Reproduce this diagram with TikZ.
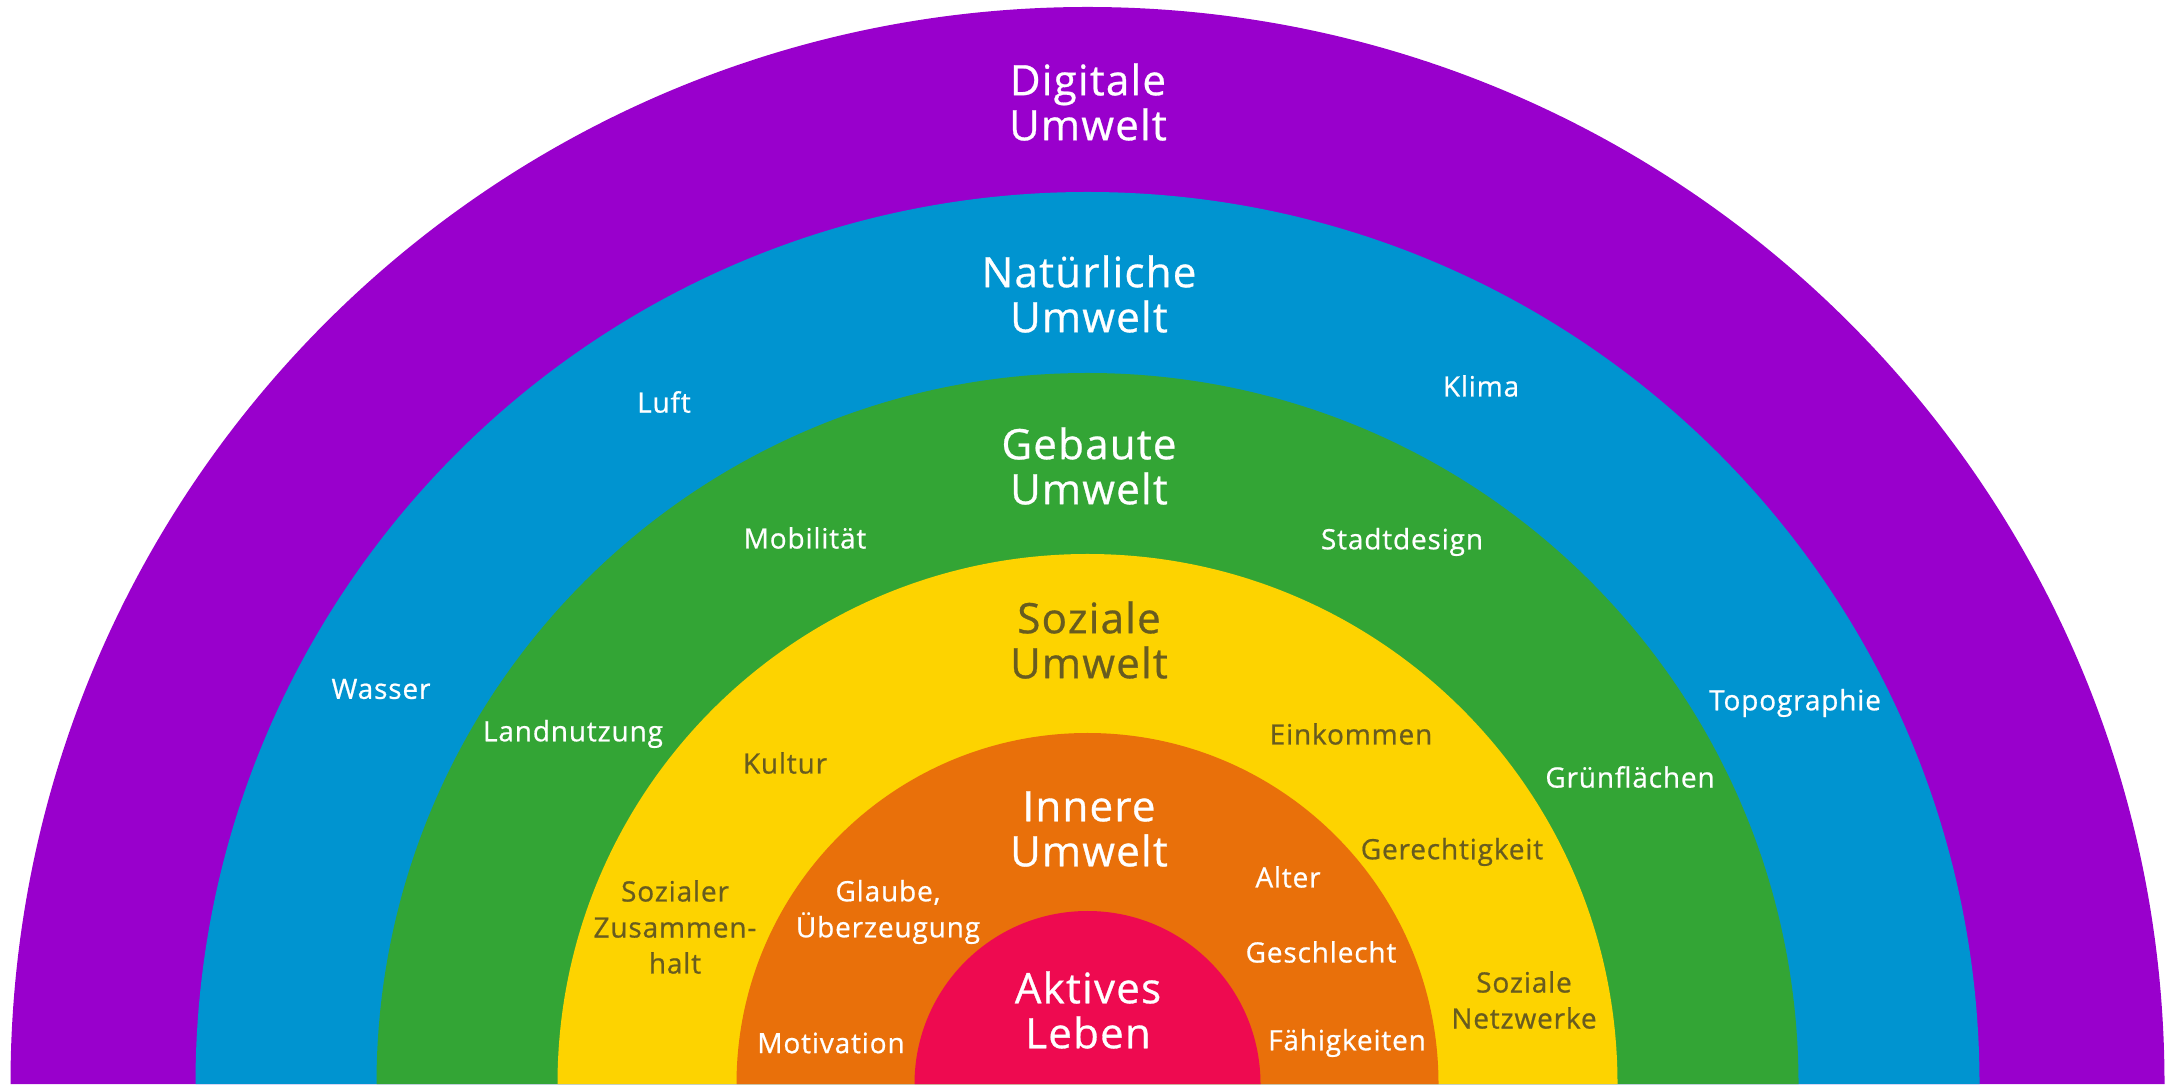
\documentclass[tikz,border=0pt]{standalone}
\usepackage{fontspec}
\setmainfont{Open Sans}[FakeBold=0.7,LetterSpace=3]
\definecolor{cpurple}{RGB}{153,0,204}
\definecolor{cblue}{RGB}{0,148,208}
\definecolor{cgreen}{RGB}{51,165,53}
\definecolor{cyellow}{RGB}{253,211,0}
\definecolor{corange}{RGB}{233,112,10}
\definecolor{cred}{RGB}{238,10,80}
\definecolor{colive}{RGB}{104,92,32}
\tikzset{
  bigtext/.style={font=\fontsize{42}{45}\selectfont, align=center, inner sep=0pt, text=white},
  smalltext/.style={font=\fontsize{28}{36}\selectfont, align=center, inner sep=0pt, text=white},
  darktext/.style={text=colive}
}
\begin{document}
\begin{tikzpicture}[x=1pt,y=1pt]
\useasboundingbox (0,0) rectangle (2175,1084);
\coordinate (c) at (1087.5,0);
\foreach \r/\col in {1077/cpurple,892/cblue,711/cgreen,530/cyellow,351/corange,173/cred}{
  \fill[\col] ([xshift=-\r pt]c) arc[start angle=180,end angle=0,radius=\r] -- cycle;
}
% ring titles
\node[bigtext] (digital) at (1088,982) {Digitale\\Umwelt};
\node[bigtext] (natur) at (1089,790) {Natürliche\\Umwelt};
\node[bigtext] (gebaut) at (1089,618) {Gebaute\\Umwelt};
\node[bigtext,darktext] (sozial) at (1089,444) {Soziale\\Umwelt};
\node[bigtext] (innere) at (1089,255) {Innere\\Umwelt};
\node[bigtext] (aktiv) at (1088,74) {Aktives\\Leben};
% natural
\node[smalltext] (luft) at (664,682) {Luft};
\node[smalltext] (klima) at (1481,698) {Klima};
\node[smalltext] (wasser) at (381,395) {Wasser};
\node[smalltext] (topo) at (1795,381) {Topographie};
% built
\node[smalltext] (mobil) at (805,546) {Mobilität};
\node[smalltext] (stadt) at (1402,542) {Stadtdesign};
\node[smalltext] (land) at (573,350) {Landnutzung};
\node[smalltext] (gruen) at (1630,307) {Grünflächen};
% social
\node[smalltext,darktext] (kultur) at (785,321) {Kultur};
\node[smalltext,darktext] (einkommen) at (1351,350) {Einkommen};
\node[smalltext,darktext] (gerecht) at (1452,232) {Gerechtigkeit};
\node[smalltext,darktext] (zusammen) at (675,157) {Sozialer\\Zusammen-\\halt};
\node[smalltext,darktext] (netz) at (1524,84) {Soziale\\Netzwerke};
% inner
\node[smalltext] (glaube) at (888,172) {Glaube,\\Überzeugung};
\node[smalltext] (alter) at (1288,207) {Alter};
\node[smalltext] (geschlecht) at (1321,132) {Geschlecht};
\node[smalltext] (motiv) at (831,41) {Motivation};
\node[smalltext] (faehig) at (1347,41) {Fähigkeiten};
\end{tikzpicture}
\end{document}
